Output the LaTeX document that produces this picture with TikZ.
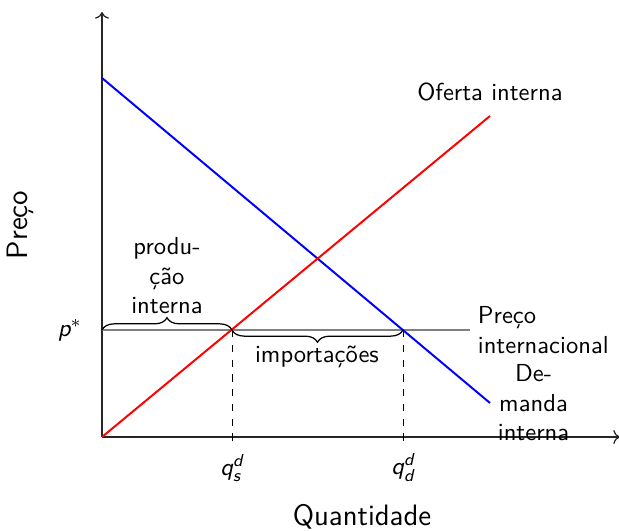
\documentclass[tikz,border=0pt]{standalone}
\usepackage{amsmath}
\usepackage{fontspec}
\renewcommand{\familydefault}{\sfdefault}
\usepackage{tikz}
\usetikzlibrary{arrows.meta,positioning,calc,decorations.pathreplacing}
\newcommand{\sv}[1]{\textsl{#1}}

\begin{document}
\begin{tikzpicture}[x=0.4065pt,y=0.4065pt,
  axis/.style={->,draw=black!85,line width=0.5pt},
  curve/.style={line width=0.8pt},
  guide/.style={dashed,line width=0.4pt},
  brace/.style={decorate,decoration={brace,amplitude=5pt},line width=0.5pt},
  lbl/.style={align=center,inner sep=2pt}]
  \useasboundingbox (0,0) rectangle (619,531);
  % pontos
  \coordinate (O) at (102,94);
  \coordinate (ytop) at (102,519);
  \coordinate (xend) at (620,94);
  \coordinate (dstart) at (102,453);
  \coordinate (dend) at (490,128);
  \coordinate (send) at (490,415);
  \coordinate (pstar) at (102,201);
  \coordinate (pend) at (470,201);
  \coordinate (qs) at (232,201);
  \coordinate (qd) at (403,201);
  \coordinate (qsfoot) at (232,88);
  \coordinate (qdfoot) at (403,88);
  % eixos
  \draw[axis] (O)--(ytop);
  \draw[axis] (O)--(xend);
  % preco internacional e guias
  \draw[gray,line width=0.8pt] (pstar)--(pend);
  \draw[guide] (qs)--(qsfoot);
  \draw[guide] (qd)--(qdfoot);
  % curvas
  \draw[curve,blue] (dstart)--(dend);
  \draw[curve,red] (O)--(send);
  % chaves
  \draw[brace] (pstar)--(qs);
  \draw[brace] (qd)--(qs);
  % textos
  \node[lbl] (prod) at (167,255) {produ-\\ção\\interna};
  \node[lbl] (imp) at (317,174) {importações};
  \node[lbl,above=4pt of send] (oferta) {Oferta interna};
  \node[lbl,right=1pt of pend,align=left,anchor=west] (pint) {Preço\\internacional};
  \node[lbl,right=1pt of dend,anchor=west] (dem) {De-\\manda\\interna};
  \node (plbl) at (70,201) {$\sv{p}^{*}$};
  \node (qslbl) at (232,63) {$\sv{q}_{\sv{s}}^{\sv{d}}$};
  \node (qdlbl) at (403,63) {$\sv{q}_{\sv{d}}^{\sv{d}}$};
  \node[font=\large] (xlbl) at (362,14) {Quantidade};
  \node[font=\large,rotate=90] (ylbl) at (20,306) {Preço};
\end{tikzpicture}
\end{document}
